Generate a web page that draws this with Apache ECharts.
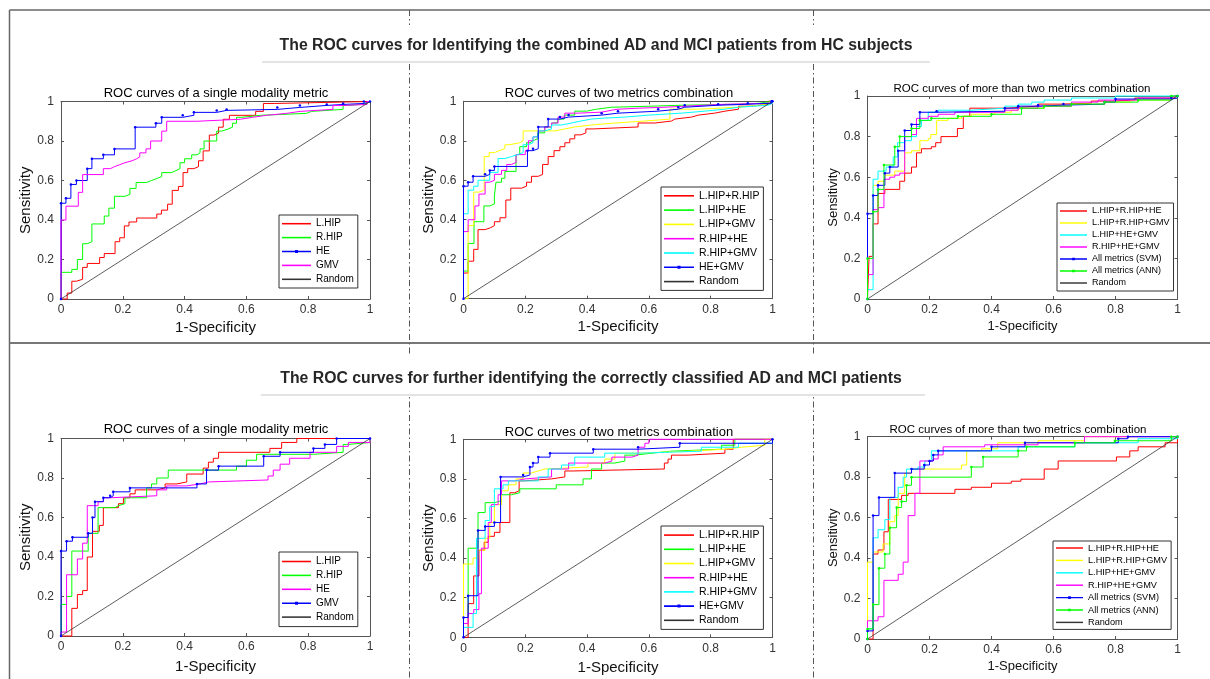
<!DOCTYPE html>
<html><head><meta charset="utf-8">
<script src="https://cdn.jsdelivr.net/npm/echarts@6/dist/echarts.min.js"></script>
<style>html,body{margin:0;padding:0;background:#fff}#c{width:1210px;height:679px}</style>
</head><body><div id="c"></div>
<script>
// ---------------- DATA ----------------
const MAIN_TITLES = ['The ROC curves for Identifying the combined AD and MCI patients from HC subjects',
  'The ROC curves for further identifying the correctly classified AD and MCI patients'];
const PANEL_TITLES = ['ROC curves of a single modality metric','ROC curves of two metrics combination','ROC curves of more than two metrics combination'];
const X_NAME = '1-Specificity';
const Y_NAME = 'Sensitivity';
const AXIS_TICKS = [0, 0.2, 0.4, 0.6, 0.8, 1];

const T1_NAMES = ['L.HIP','R.HIP','HE','GMV','Random'];
const B1_NAMES = ['L.HIP','R.HIP','HE','GMV','Random'];
const TWO_NAMES = ['L.HIP+R.HIP','L.HIP+HE','L.HIP+GMV','R.HIP+HE','R.HIP+GMV','HE+GMV','Random'];
const MULTI_NAMES = ['L.HIP+R.HIP+HE','L.HIP+R.HIP+GMV','L.HIP+HE+GMV','R.HIP+HE+GMV','All metrics (SVM)','All metrics (ANN)','Random'];

const RANDOM_LINE = [[0,0],[1,1]];

// top row, single metric  [1-specificity, sensitivity] after each vertical jump
const T1_L_HIP = [[0,0],[0.02,0.03],[0.035,0.09],[0.05,0.1],[0.07,0.16],[0.085,0.18],[0.125,0.21],[0.14,0.23],[0.175,0.29],[0.19,0.31],[0.205,0.37],[0.22,0.39],[0.245,0.41],[0.31,0.43],[0.325,0.45],[0.345,0.48],[0.36,0.55],[0.38,0.57],[0.395,0.64],[0.41,0.66],[0.43,0.67],[0.445,0.70],[0.46,0.75],[0.48,0.83],[0.495,0.84],[0.51,0.87],[0.525,0.91],[0.545,0.93],[0.63,0.95],[0.655,0.99],[0.69,1],[1,1]];
const T1_R_HIP = [[0,0],[0,0.135],[0.035,0.15],[0.053,0.2],[0.07,0.28],[0.085,0.29],[0.1,0.38],[0.14,0.42],[0.155,0.46],[0.173,0.52],[0.207,0.53],[0.223,0.56],[0.243,0.59],[0.277,0.6],[0.293,0.61],[0.31,0.62],[0.326,0.64],[0.358,0.65],[0.372,0.66],[0.385,0.69],[0.4,0.71],[0.423,0.73],[0.44,0.74],[0.45,0.76],[0.463,0.8],[0.504,0.85],[0.52,0.86],[0.54,0.87],[0.555,0.89],[0.568,0.92],[0.585,0.93],[0.645,0.94],[0.795,0.95],[0.81,0.96],[0.913,0.98],[0.935,0.99],[0.99,1],[1,1]];
const T1_HE = [[0,0],[0,0.485],[0.016,0.51],[0.032,0.58],[0.05,0.6],[0.085,0.66],[0.1,0.71],[0.137,0.73],[0.173,0.76],[0.24,0.87],[0.307,0.89],[0.326,0.92],[0.394,0.93],[0.43,0.945],[0.504,0.955],[0.536,0.96],[0.7,0.97],[0.773,0.98],[0.86,0.985],[0.913,0.99],[0.98,1],[1,1]];
const T1_GMV = [[0,0],[0,0.4],[0.016,0.47],[0.056,0.54],[0.07,0.63],[0.137,0.66],[0.16,0.67],[0.173,0.68],[0.19,0.69],[0.207,0.7],[0.23,0.71],[0.245,0.72],[0.255,0.74],[0.275,0.76],[0.29,0.8],[0.326,0.85],[0.342,0.9],[0.44,0.91],[0.58,0.92],[0.62,0.93],[0.665,0.94],[0.73,0.95],[0.774,0.96],[0.88,0.98],[0.913,0.985],[0.99,1],[1,1]];

// top row, two metrics
const T2_LHIP_RHIP = [[0,0],[0,0.13],[0.015,0.19],[0.033,0.25],[0.047,0.35],[0.07,0.36],[0.088,0.37],[0.1,0.39],[0.118,0.41],[0.137,0.5],[0.153,0.56],[0.188,0.57],[0.204,0.59],[0.22,0.62],[0.242,0.63],[0.256,0.68],[0.274,0.72],[0.293,0.75],[0.312,0.77],[0.328,0.79],[0.344,0.81],[0.36,0.83],[0.38,0.84],[0.396,0.86],[0.42,0.87],[0.565,0.89],[0.62,0.9],[0.673,0.91],[0.684,0.92],[0.738,0.93],[0.76,0.94],[0.813,0.95],[0.846,0.96],[0.89,0.975],[0.93,0.985],[0.985,1],[1,1]];
const T2_LHIP_HE = [[0,0],[0,0.14],[0.015,0.28],[0.034,0.39],[0.066,0.47],[0.085,0.48],[0.1,0.52],[0.105,0.59],[0.123,0.61],[0.134,0.645],[0.17,0.73],[0.182,0.77],[0.204,0.79],[0.215,0.8],[0.225,0.81],[0.24,0.84],[0.263,0.87],[0.285,0.89],[0.304,0.91],[0.326,0.93],[0.36,0.95],[0.398,0.96],[0.43,0.97],[0.48,0.975],[0.6,0.98],[0.705,0.985],[0.89,0.99],[0.955,1],[1,1]];
const T2_LHIP_GMV = [[0,0],[0.015,0.37],[0.033,0.54],[0.05,0.55],[0.067,0.72],[0.083,0.74],[0.1,0.75],[0.115,0.76],[0.134,0.78],[0.148,0.79],[0.182,0.8],[0.193,0.85],[0.296,0.86],[0.328,0.87],[0.36,0.88],[0.414,0.89],[0.49,0.9],[0.587,0.91],[0.668,0.96],[0.76,0.97],[0.89,0.98],[0.955,0.99],[1,1]];
const T2_RHIP_HE = [[0,0],[0,0.34],[0.015,0.4],[0.037,0.47],[0.05,0.53],[0.07,0.59],[0.085,0.6],[0.1,0.63],[0.123,0.65],[0.14,0.68],[0.155,0.69],[0.17,0.73],[0.2,0.75],[0.21,0.8],[0.225,0.82],[0.242,0.85],[0.263,0.87],[0.285,0.89],[0.306,0.92],[0.328,0.94],[0.37,0.945],[0.447,0.955],[0.48,0.96],[0.5,0.965],[0.565,0.97],[0.652,0.98],[0.78,0.985],[0.846,0.99],[0.99,1],[1,1]];
const T2_RHIP_GMV = [[0,0],[0,0.43],[0.015,0.55],[0.033,0.57],[0.047,0.6],[0.085,0.64],[0.112,0.71],[0.134,0.72],[0.155,0.73],[0.175,0.74],[0.193,0.78],[0.21,0.79],[0.225,0.82],[0.242,0.85],[0.263,0.86],[0.285,0.88],[0.317,0.89],[0.35,0.9],[0.38,0.91],[0.414,0.915],[0.457,0.92],[0.522,0.93],[0.6,0.94],[0.705,0.95],[0.78,0.96],[0.846,0.97],[0.89,0.98],[0.985,0.99],[1,1]];
const T2_HE_GMV = [[0,0],[0,0.57],[0.015,0.59],[0.031,0.62],[0.07,0.63],[0.085,0.65],[0.1,0.67],[0.207,0.75],[0.225,0.76],[0.242,0.87],[0.274,0.91],[0.312,0.92],[0.34,0.93],[0.447,0.94],[0.5,0.95],[0.63,0.96],[0.695,0.97],[0.716,0.98],[0.824,0.985],[0.92,0.99],[0.997,1],[1,1]];

// top row, more than two metrics
const T3_LHIP_RHIP_HE = [[0,0],[0.005,0.21],[0.018,0.37],[0.034,0.52],[0.056,0.54],[0.104,0.58],[0.12,0.62],[0.142,0.65],[0.158,0.72],[0.174,0.74],[0.206,0.75],[0.22,0.77],[0.237,0.8],[0.29,0.84],[0.309,0.9],[0.33,0.94],[0.454,0.945],[0.497,0.95],[0.55,0.96],[0.626,0.965],[0.722,0.975],[0.787,0.98],[0.862,0.99],[0.99,1],[1,1]];
const T3_LHIP_RHIP_GMV = [[0,0],[0,0.42],[0.018,0.56],[0.034,0.58],[0.056,0.61],[0.088,0.63],[0.12,0.72],[0.142,0.73],[0.169,0.78],[0.196,0.79],[0.204,0.81],[0.223,0.88],[0.26,0.89],[0.303,0.9],[0.335,0.91],[0.41,0.92],[0.464,0.93],[0.486,0.94],[0.57,0.95],[0.658,0.96],[0.765,0.97],[0.85,0.98],[0.98,0.99],[1,1]];
const T3_LHIP_HE_GMV = [[0,0],[0,0.046],[0.018,0.59],[0.034,0.63],[0.06,0.65],[0.083,0.7],[0.097,0.77],[0.12,0.78],[0.142,0.8],[0.158,0.85],[0.174,0.88],[0.196,0.92],[0.228,0.93],[0.335,0.935],[0.39,0.94],[0.443,0.95],[0.486,0.96],[0.53,0.97],[0.57,0.98],[0.658,0.99],[0.8,1],[1,1]];
const T3_RHIP_HE_GMV = [[0,0],[0,0.12],[0.018,0.44],[0.034,0.45],[0.053,0.59],[0.072,0.6],[0.088,0.61],[0.104,0.62],[0.12,0.8],[0.142,0.81],[0.158,0.89],[0.196,0.9],[0.228,0.91],[0.282,0.92],[0.443,0.93],[0.486,0.94],[0.55,0.95],[0.658,0.97],[0.744,0.98],[0.873,0.99],[0.99,1],[1,1]];
const T3_ALL_SVM = [[0,0],[0,0.42],[0.018,0.51],[0.034,0.56],[0.056,0.62],[0.072,0.65],[0.099,0.73],[0.12,0.83],[0.142,0.86],[0.169,0.92],[0.223,0.925],[0.443,0.94],[0.486,0.95],[0.55,0.955],[0.632,0.96],[0.765,0.97],[0.8,0.985],[0.98,0.99],[1,1]];
const T3_ALL_ANN = [[0,0],[0,0.2],[0.018,0.43],[0.034,0.54],[0.053,0.66],[0.088,0.75],[0.104,0.8],[0.142,0.84],[0.169,0.88],[0.206,0.89],[0.292,0.9],[0.4,0.91],[0.497,0.94],[0.57,0.95],[0.658,0.96],[0.765,0.97],[0.873,0.98],[0.98,1],[1,1]];

// bottom row, single metric
const B1_L_HIP = [[0,0],[0.035,0.14],[0.053,0.21],[0.07,0.23],[0.085,0.4],[0.102,0.53],[0.124,0.56],[0.137,0.65],[0.186,0.67],[0.202,0.7],[0.223,0.72],[0.24,0.74],[0.31,0.75],[0.337,0.77],[0.375,0.78],[0.407,0.82],[0.46,0.85],[0.477,0.88],[0.493,0.9],[0.51,0.93],[0.676,0.95],[0.714,0.98],[0.763,1],[1,1]];
const B1_R_HIP = [[0,0],[0,0.16],[0.018,0.2],[0.035,0.43],[0.088,0.52],[0.12,0.65],[0.175,0.66],[0.186,0.67],[0.207,0.7],[0.277,0.75],[0.293,0.77],[0.31,0.8],[0.347,0.84],[0.568,0.86],[0.6,0.89],[0.633,0.92],[0.817,0.93],[0.913,0.97],[0.93,0.98],[1,1]];
const B1_HE = [[0,0],[0,0.02],[0.018,0.31],[0.053,0.39],[0.07,0.47],[0.085,0.66],[0.12,0.68],[0.137,0.7],[0.159,0.71],[0.31,0.74],[0.342,0.76],[0.407,0.77],[0.45,0.78],[0.477,0.79],[0.67,0.81],[0.687,0.84],[0.709,0.87],[0.74,0.9],[0.806,0.93],[0.892,0.96],[0.93,0.98],[1,1]];
const B1_GMV = [[0,0],[0,0.43],[0.018,0.48],[0.037,0.5],[0.088,0.52],[0.102,0.6],[0.11,0.68],[0.137,0.7],[0.159,0.71],[0.169,0.73],[0.223,0.75],[0.44,0.77],[0.471,0.84],[0.51,0.86],[0.656,0.91],[0.709,0.93],[0.817,0.95],[0.854,0.97],[0.892,1],[1,1]];

// bottom row, two metrics
const B2_LHIP_RHIP = [[0,0],[0.015,0.17],[0.033,0.31],[0.05,0.44],[0.067,0.48],[0.08,0.51],[0.1,0.53],[0.118,0.58],[0.15,0.73],[0.166,0.74],[0.18,0.79],[0.196,0.8],[0.285,0.81],[0.328,0.84],[0.355,0.85],[0.65,0.88],[0.662,0.9],[0.673,0.92],[0.727,0.93],[0.846,0.95],[0.873,1],[1,1]];
const B2_LHIP_HE = [[0,0],[0,0.1],[0.015,0.45],[0.047,0.63],[0.07,0.68],[0.1,0.69],[0.123,0.72],[0.155,0.73],[0.182,0.75],[0.3,0.77],[0.387,0.8],[0.414,0.85],[0.447,0.88],[0.49,0.89],[0.522,0.92],[0.555,0.93],[0.61,0.94],[0.673,0.95],[0.835,0.97],[0.878,1],[1,1]];
const B2_LHIP_GMV = [[0,0],[0,0.37],[0.031,0.4],[0.047,0.44],[0.07,0.5],[0.085,0.58],[0.1,0.67],[0.123,0.74],[0.145,0.77],[0.17,0.8],[0.193,0.83],[0.22,0.84],[0.242,0.85],[0.263,0.86],[0.403,0.88],[0.457,0.9],[0.49,0.93],[0.565,0.94],[0.727,0.95],[0.846,0.96],[0.9,0.97],[0.975,1],[1,1]];
const B2_RHIP_HE = [[0,0],[0,0.07],[0.015,0.12],[0.033,0.14],[0.05,0.22],[0.058,0.45],[0.08,0.58],[0.09,0.67],[0.112,0.72],[0.123,0.79],[0.166,0.8],[0.2,0.81],[0.285,0.85],[0.34,0.88],[0.457,0.89],[0.48,0.91],[0.545,0.92],[0.565,0.96],[0.587,0.98],[0.6,1],[1,1]];
const B2_RHIP_GMV = [[0,0],[0,0.05],[0.031,0.12],[0.042,0.5],[0.07,0.59],[0.085,0.66],[0.1,0.75],[0.128,0.77],[0.145,0.79],[0.242,0.81],[0.274,0.85],[0.317,0.87],[0.36,0.91],[0.457,0.93],[0.565,0.94],[0.77,0.96],[0.89,0.98],[1,1]];
const B2_HE_GMV = [[0,0],[0,0.1],[0.015,0.21],[0.047,0.54],[0.07,0.56],[0.1,0.58],[0.12,0.81],[0.193,0.82],[0.215,0.86],[0.225,0.88],[0.242,0.91],[0.28,0.93],[0.42,0.95],[0.565,0.96],[0.7,0.98],[1,1]];

// bottom row, more than two metrics
const B3_LHIP_RHIP_HE = [[0,0],[0.018,0.42],[0.034,0.44],[0.053,0.53],[0.067,0.69],[0.11,0.71],[0.131,0.72],[0.282,0.74],[0.335,0.75],[0.4,0.77],[0.464,0.78],[0.495,0.79],[0.57,0.84],[0.615,0.88],[0.803,0.9],[0.846,0.93],[0.873,0.95],[0.96,0.97],[1,1]];
const B3_LHIP_RHIP_GMV = [[0,0],[0,0.38],[0.018,0.43],[0.05,0.47],[0.072,0.58],[0.088,0.61],[0.099,0.72],[0.12,0.82],[0.142,0.84],[0.303,0.86],[0.32,0.93],[0.368,0.94],[0.42,0.97],[0.55,0.98],[0.7,1],[1,1]];
const B3_LHIP_HE_GMV = [[0,0],[0,0.05],[0.018,0.5],[0.034,0.54],[0.056,0.59],[0.072,0.7],[0.099,0.75],[0.115,0.8],[0.126,0.84],[0.163,0.85],[0.185,0.88],[0.206,0.93],[0.486,0.95],[0.669,0.97],[0.873,0.99],[1,1]];
const B3_RHIP_HE_GMV = [[0,0],[0,0.09],[0.034,0.11],[0.053,0.29],[0.099,0.32],[0.115,0.38],[0.131,0.61],[0.153,0.72],[0.169,0.88],[0.212,0.89],[0.228,0.91],[0.244,0.95],[0.378,0.96],[0.55,0.97],[0.7,1],[1,1]];
const B3_ALL_SVM = [[0,0],[0,0.04],[0.018,0.61],[0.037,0.7],[0.088,0.82],[0.142,0.84],[0.183,0.86],[0.2,0.88],[0.212,0.91],[0.228,0.93],[0.4,0.95],[0.508,0.97],[0.809,0.99],[0.84,1],[1,1]];
const B3_ALL_ANN = [[0,0],[0,0.05],[0.018,0.17],[0.037,0.35],[0.056,0.42],[0.072,0.55],[0.094,0.65],[0.11,0.68],[0.126,0.76],[0.142,0.8],[0.335,0.85],[0.373,0.9],[0.486,0.93],[0.513,0.95],[0.669,0.97],[0.798,0.98],[0.98,1],[1,1]];

// ---------------- STYLE / LAYOUT ----------------
const FONT = '"Liberation Sans", Arial, sans-serif';
const RED='#ff0000', GREEN='#00ff00', BLUE='#0000ff', MAG='#ff00ff', YEL='#ffff00', CYAN='#00ffff', BLACK='#333333';
const LINE_ICON = 'path://M0,0L30,0L30,1.6L0,1.6Z';
const MARK_ICON = 'path://M0,1.2L30,1.2L30,2.8L0,2.8Z M13.5,0.5L16.5,0.5L16.5,3.5L13.5,3.5Z';

const panels = [
  { title: PANEL_TITLES[0], tx: 216, ty: 93, tfs: 13, names: T1_NAMES,
    data: [T1_L_HIP, T1_R_HIP, T1_HE, T1_GMV, RANDOM_LINE],
    colors: [RED, GREEN, BLUE, MAG, BLACK], marks: [0,0,1,0,0],
    grid: {left: 61, top: 101.5, width: 309, height: 197.5}, nfs: 15, xGap: 21, yGap: 23.5,
    lg: {left: 279, top: 215, fs: 10, iw: 29, ih: 10, gap: 3.9, pad: 3.7} },
  { title: PANEL_TITLES[1], tx: 619, ty: 93, tfs: 13, names: TWO_NAMES,
    data: [T2_LHIP_RHIP, T2_LHIP_HE, T2_LHIP_GMV, T2_RHIP_HE, T2_RHIP_GMV, T2_HE_GMV, RANDOM_LINE],
    colors: [RED, GREEN, YEL, MAG, CYAN, BLUE, BLACK], marks: [0,0,0,0,0,1,0],
    grid: {left: 463.5, top: 101.3, width: 309, height: 197.4}, nfs: 15, xGap: 21, yGap: 24,
    lg: {left: 661, top: 187, fs: 10.5, iw: 30, ih: 10.5, gap: 3.3, pad: 3.3} },
  { title: PANEL_TITLES[2], tx: 1022, ty: 89, tfs: 11.5, names: MULTI_NAMES,
    data: [T3_LHIP_RHIP_HE, T3_LHIP_RHIP_GMV, T3_LHIP_HE_GMV, T3_RHIP_HE_GMV, T3_ALL_SVM, T3_ALL_ANN, RANDOM_LINE],
    colors: [RED, YEL, CYAN, MAG, BLUE, GREEN, BLACK], marks: [0,0,0,0,1,1,0],
    grid: {left: 867.5, top: 96, width: 310, height: 203}, nfs: 13, xGap: 21, yGap: 19,
    lg: {left: 1057, top: 203, fs: 9, iw: 27, ih: 9, gap: 3, pad: 3.5} },
  { title: PANEL_TITLES[0], tx: 216, ty: 429, tfs: 13, names: B1_NAMES,
    data: [B1_L_HIP, B1_R_HIP, B1_HE, B1_GMV, RANDOM_LINE],
    colors: [RED, GREEN, MAG, BLUE, BLACK], marks: [0,0,0,1,0],
    grid: {left: 61, top: 438.5, width: 309, height: 197.5}, nfs: 15, xGap: 23, yGap: 23.5,
    lg: {left: 279, top: 552, fs: 10, iw: 29, ih: 10, gap: 3.9, pad: 4.5} },
  { title: PANEL_TITLES[1], tx: 619, ty: 432, tfs: 13, names: TWO_NAMES,
    data: [B2_LHIP_RHIP, B2_LHIP_HE, B2_LHIP_GMV, B2_RHIP_HE, B2_RHIP_GMV, B2_HE_GMV, RANDOM_LINE],
    colors: [RED, GREEN, YEL, MAG, CYAN, BLUE, BLACK], marks: [0,0,0,0,0,1,0],
    grid: {left: 463.5, top: 439.3, width: 309, height: 198}, nfs: 15, xGap: 23, yGap: 24,
    lg: {left: 661, top: 526, fs: 10.5, iw: 30, ih: 10.5, gap: 3.2, pad: 3.6} },
  { title: PANEL_TITLES[2], tx: 1018, ty: 430, tfs: 11.5, names: MULTI_NAMES,
    data: [B3_LHIP_RHIP_HE, B3_LHIP_RHIP_GMV, B3_LHIP_HE_GMV, B3_RHIP_HE_GMV, B3_ALL_SVM, B3_ALL_ANN, RANDOM_LINE],
    colors: [RED, YEL, CYAN, MAG, BLUE, GREEN, BLACK], marks: [0,0,0,0,1,1,0],
    grid: {left: 867.5, top: 436.7, width: 310, height: 202.3}, nfs: 13, xGap: 21, yGap: 19,
    lg: {left: 1053, top: 541, fs: 9.2, iw: 27, ih: 9.2, gap: 3.4, pad: 2.5} }
];

const AX_COLOR = '#555';
const INTERVAL = AXIS_TICKS[1] - AXIS_TICKS[0];
const AX_MIN = AXIS_TICKS[0], AX_MAX = AXIS_TICKS[AXIS_TICKS.length - 1];

function axisBase(gi, pos, showLabel, name, nfs, gap) {
  return {
    type: 'value', gridIndex: gi, position: pos, min: AX_MIN, max: AX_MAX, interval: INTERVAL,
    name: showLabel ? name : '', nameLocation: 'middle', nameGap: gap,
    nameTextStyle: { fontSize: nfs, color: '#111', fontFamily: FONT },
    axisLine: { show: true, onZero: false, lineStyle: { color: AX_COLOR, width: 1 } },
    axisTick: { show: true, inside: true, length: 3, lineStyle: { color: AX_COLOR, width: 1 } },
    axisLabel: { show: showLabel, fontSize: 12, color: '#333', fontFamily: FONT, margin: pos === 'left' ? 7 : 5 },
    splitLine: { show: false }
  };
}

const grids = [], xAxes = [], yAxes = [], series = [], legends = [], titles = [];
panels.forEach((p, i) => {
  grids.push(Object.assign({ containLabel: false }, p.grid));
  xAxes.push(axisBase(i, 'bottom', true, X_NAME, p.nfs, p.xGap));
  xAxes.push(axisBase(i, 'top', false, '', p.nfs, 0));
  yAxes.push(axisBase(i, 'left', true, Y_NAME, p.nfs, p.yGap));
  yAxes.push(axisBase(i, 'right', false, '', p.nfs, 0));
  titles.push({ text: p.title, left: p.tx, top: p.ty, padding: 0, textAlign: 'center', textVerticalAlign: 'middle',
    textStyle: { fontSize: p.tfs, fontWeight: 'normal', color: '#000', fontFamily: FONT } });
  p.names.forEach((n, j) => {
    const isRandom = n === 'Random';
    const mk = !!p.marks[j];
    series.push({
      type: 'line', name: n, xAxisIndex: 2 * i, yAxisIndex: 2 * i, data: p.data[j],
      step: isRandom ? false : 'end', symbol: mk ? 'circle' : 'none', symbolSize: 2.5, showSymbol: mk,
      lineStyle: { color: p.colors[j], width: isRandom ? 0.8 : 1 },
      itemStyle: { color: p.colors[j] }, clip: false, silent: true, animation: false, z: 2
    });
  });
  legends.push({
    orient: 'vertical', left: p.lg.left, top: p.lg.top,
    padding: [p.lg.pad, 4, p.lg.pad, 3], itemWidth: p.lg.iw, itemHeight: p.lg.ih, itemGap: p.lg.gap,
    backgroundColor: '#fff', borderColor: '#333', borderWidth: 1, borderRadius: 0,
    selectedMode: false, z: 10,
    textStyle: { fontSize: p.lg.fs, color: '#000', fontFamily: FONT, padding: 0 },
    data: p.names.map((n, j) => ({ name: n, icon: p.marks[j] ? MARK_ICON : LINE_ICON,
      itemStyle: { color: p.colors[j], borderWidth: 0, opacity: 1 } }))
  });
});

titles.push({ text: MAIN_TITLES[0], left: 596, top: 46, padding: 0, textAlign: 'center', textVerticalAlign: 'middle',
  textStyle: { fontSize: 15.8, fontWeight: 'bold', color: '#262626', fontFamily: FONT } });
titles.push({ text: MAIN_TITLES[1], left: 591, top: 379, padding: 0, textAlign: 'center', textVerticalAlign: 'middle',
  textStyle: { fontSize: 15.8, fontWeight: 'bold', color: '#262626', fontFamily: FONT } });

const DASH = [6, 3, 1.5, 3];
const graphics = [
  { type: 'line', z: 0, shape: { x1: 9.5, y1: 10, x2: 1210, y2: 10 }, style: { stroke: '#666', lineWidth: 1.5 } },
  { type: 'line', z: 0, shape: { x1: 9.5, y1: 10, x2: 9.5, y2: 679 }, style: { stroke: '#666', lineWidth: 1.5 } },
  { type: 'line', z: 0, shape: { x1: 9.5, y1: 343, x2: 1210, y2: 343 }, style: { stroke: '#777', lineWidth: 2 } },
  { type: 'line', z: 0, shape: { x1: 409.5, y1: 10, x2: 409.5, y2: 679 }, style: { stroke: '#555', lineWidth: 1, lineDash: DASH } },
  { type: 'line', z: 0, shape: { x1: 813.5, y1: 10, x2: 813.5, y2: 679 }, style: { stroke: '#555', lineWidth: 1, lineDash: DASH } },
  { type: 'rect', z: 1, shape: { x: 262, y: 25, width: 668, height: 38 }, style: { fill: '#fff' } },
  { type: 'rect', z: 1, shape: { x: 261, y: 354, width: 664, height: 40 }, style: { fill: '#fff' } },
  { type: 'line', z: 2, shape: { x1: 262, y1: 62, x2: 930, y2: 62 }, style: { stroke: '#e3e3e3', lineWidth: 2 } },
  { type: 'line', z: 2, shape: { x1: 261, y1: 395, x2: 925, y2: 395 }, style: { stroke: '#e3e3e3', lineWidth: 2 } }
];

const chart = echarts.init(document.getElementById('c'), null, { renderer: 'canvas' });
chart.setOption({
  backgroundColor: '#fff',
  animation: false,
  title: titles,
  grid: grids,
  xAxis: xAxes,
  yAxis: yAxes,
  legend: legends,
  graphic: { elements: graphics },
  series: series
});
</script></body></html>
